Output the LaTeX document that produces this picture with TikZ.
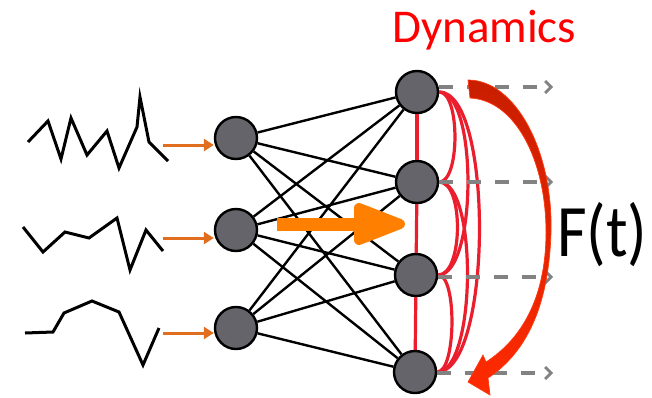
\documentclass[tikz,border=0pt]{standalone}
\usepackage{fontspec}
\setmainfont{Carlito}
\usetikzlibrary{arrows.meta}

\definecolor{cellgray}{RGB}{100,100,106}
\definecolor{feedorange}{RGB}{225,110,30}
\definecolor{bigorange}{RGB}{255,128,0}
\definecolor{linkred}{RGB}{235,30,45}
\definecolor{flowgray}{RGB}{130,130,130}
\definecolor{loopdark}{RGB}{200,30,0}
\definecolor{loopbright}{RGB}{255,42,0}
\definecolor{loopedge}{RGB}{255,58,16}

\tikzset{
  neuron/.style={circle, draw=black, line width=2.4pt, fill=cellgray,
                 minimum size=42pt, inner sep=0pt},
  wave/.style={draw=black, line width=3pt},
  feed/.style={draw=feedorange, line width=3pt,
               -{Triangle[length=10pt,width=12pt]}},
  synapse/.style={draw=black, line width=2.4pt},
  link/.style={draw=linkred, line width=3.2pt},
  outflow/.style={draw=flowgray, line width=3.2pt, dash pattern=on 14pt off 14pt,
                  -{Straight Barb[length=6pt,width=12pt,line width=2.8pt]}},
}

\begin{document}
\begin{tikzpicture}[x=1pt,y=-1pt]
\useasboundingbox (0,0) rectangle (652,397);

% input signals
\draw[wave] (28,142) -- (48,121) -- (61,159) -- (71,118) -- (87,155) -- (107,131)
  -- (119,168) -- (137,127) -- (140,97) -- (149,142) -- (168,161);
\draw[wave] (23,227) -- (43,252) -- (65,232) -- (89,238) -- (117,218) -- (130,270)
  -- (146,230) -- (163,251);
\draw[wave] (25,333) -- (53,332) -- (64,313) -- (92,301) -- (119,312) -- (143,365)
  -- (159,328);

% neurons
\node[neuron] (L1) at (236,138) {};
\node[neuron] (L2) at (236,230) {};
\node[neuron] (L3) at (236,328) {};
\node[neuron] (R1) at (417,92) {};
\node[neuron] (R2) at (417,182) {};
\node[neuron] (R3) at (416,275) {};
\node[neuron] (R4) at (415,372) {};

% full connections between the layers
\foreach \a in {L1,L2,L3}
  \foreach \b in {R1,R2,R3,R4}
    \draw[synapse] (\a) -- (\b);

% input arrows
\coordinate (s1) at (163,145);
\coordinate (s2) at (163,238);
\coordinate (s3) at (163,333);
\draw[feed] (s1) -- (s1 -| L1.west);
\draw[feed] (s2) -- (s2 -| L2.west);
\draw[feed] (s3) -- (s3 -| L3.west);

% recurrent links in the output layer
\draw[link] (R1) -- (R2);
\draw[link] (R2) -- (R3);
\draw[link] (R3) -- (R4);
\draw[link] (R1.east) .. controls +(21,0) and +(21,0) .. (R2.east);
\draw[link] (R1.east) .. controls +(39,0) and +(39,0) .. (R3.east);
\draw[link] (R1.east) .. controls +(55,0) and +(55,0) .. (R4.east);
\draw[link] (R2.east) .. controls +(25,0) and +(25,0) .. (R3.east);
\draw[link] (R2.east) .. controls +(39,0) and +(39,0) .. (R4.east);
\draw[link] (R3.east) .. controls +(19,0) and +(19,0) .. (R4.east);

% outputs
\coordinate (o1) at (553,87);
\coordinate (o2) at (553,182);
\coordinate (o3) at (553,277);
\coordinate (o4) at (553,373);
\draw[outflow] (o1 -| R1.east) -- (o1);
\draw[outflow] (o2 -| R2.east) -- (o2);
\draw[outflow] (o3 -| R3.east) -- (o3);
\draw[outflow] (o4 -| R4.east) -- (o4);

% big input arrow
\coordinate (ba) at (277,224);
\coordinate (bb) at (396,224);
\draw[bigorange, line width=13pt] (ba) -- (bb);
\filldraw[bigorange, line width=10pt, line join=round]
  (359,208) -- (400,224) -- (359,240) -- cycle;

% curved arrow for the dynamics F(t)
\path[draw=loopedge, line width=0.7pt, top color=loopdark, bottom color=loopbright]
  (468,80) .. controls (515,80) and (553,150) .. (551,232)
  .. controls (549,300) and (530,350) .. (488,378)
  -- (490,395) -- (468,382) -- (483,355) -- (486,362)
  .. controls (520,340) and (546,300) .. (546,232)
  .. controls (546,160) and (515,100) .. (470,98) -- cycle;

% labels
\node[anchor=base west, inner sep=0pt, text=red,
      font=\fontsize{47}{47}\selectfont] (dyn) at (392,42) {Dynamics};
\node[anchor=base west, inner sep=0pt,
      font=\fontsize{74}{74}\selectfont] (ft) at (557,256) {\scalebox{0.87}[1]{F(t)}};
\end{tikzpicture}
\end{document}
